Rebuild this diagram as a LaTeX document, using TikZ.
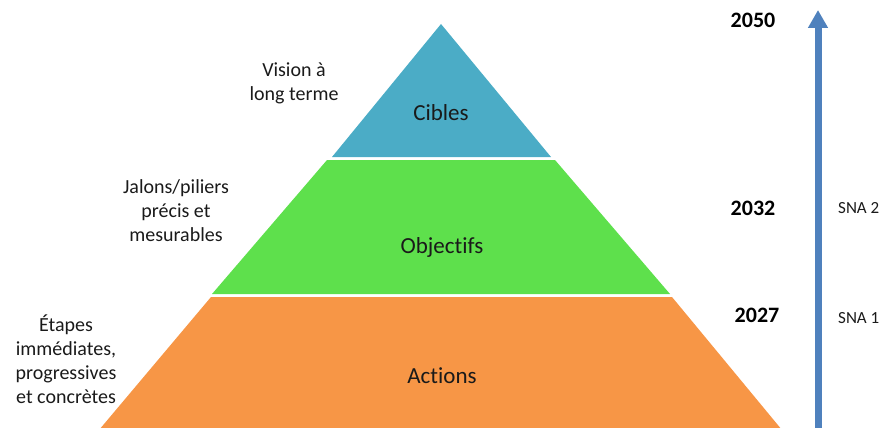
\documentclass[tikz,border=0pt]{standalone}
\usepackage{fontspec}
\setmainfont{Carlito}[RawFeature={-liga}]
\usetikzlibrary{arrows.meta}
\definecolor{cblue}{HTML}{4BACC6}
\definecolor{cgreen}{HTML}{5EE04C}
\definecolor{corange}{HTML}{F79646}
\definecolor{carrow}{HTML}{4F81BD}
\definecolor{ctext}{HTML}{1A1A1A}
\tikzset{
  layer/.style={draw=none},
  mainlbl/.style={font=\fontsize{23}{28}\selectfont, text=ctext, anchor=base, inner sep=0pt},
  sidelbl/.style={font=\fontsize{20}{24}\selectfont, text=ctext, align=center, inner sep=0pt},
  yearlbl/.style={font=\fontsize{22}{26}\selectfont\bfseries, text=black, anchor=base, inner sep=0pt},
  snalbl/.style={font=\fontsize{17}{20}\selectfont, text=ctext, anchor=base west, inner sep=0pt},
  timeline/.style={carrow, line width=7pt, -{Triangle[length=18pt,width=19pt]}}
}
\begin{document}
\begin{tikzpicture}[x=1pt,y=-1pt]
\useasboundingbox (0,0) rectangle (881,428);
% pyramid layers
\fill[layer, cblue] (441,24) -- (551,157) -- (332,157) -- cycle;
\fill[layer, cgreen] (327,160) -- (555,160) -- (670,294) -- (212,294) -- cycle;
\fill[layer, corange] (211,297) -- (672,297) -- (782,430) -- (99,430) -- cycle;
% layer labels
\node[mainlbl] (cibles) at (441,120) {Cibles};
\node[mainlbl] (objectifs) at (442,253) {Objectifs};
\node[mainlbl] (actions) at (442,383) {Actions};
% side descriptions
\node[sidelbl] (vision) at (294,83) {Vision à\\long terme};
\node[sidelbl] (jalons) at (176,210.5) {Jalons/piliers\\précis et\\mesurables};
\node[sidelbl] (etapes) at (66,359.5) {Étapes\\immédiates,\\progressives\\et concrètes};
% years
\node[yearlbl] (y2050) at (753,28) {2050};
\node[yearlbl] (y2032) at (753,215) {2032};
\node[yearlbl] (y2027) at (757,322) {2027};
\node[snalbl] (sna2) at (838,213) {SNA 2};
\node[snalbl] (sna1) at (838,323) {SNA 1};
% timeline arrow
\coordinate (abot) at (818,432);
\coordinate (atop) at (818,10);
\draw[timeline] (abot) -- (atop);
\end{tikzpicture}
\end{document}
